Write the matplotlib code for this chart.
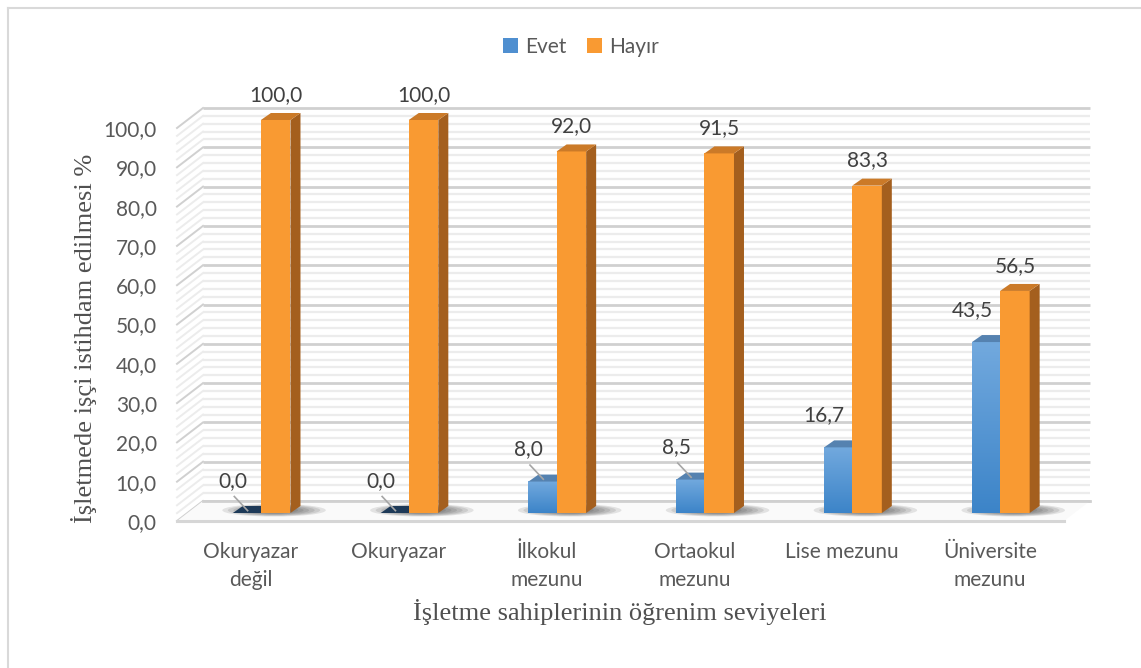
import numpy as np
import matplotlib
matplotlib.use('Agg')
import matplotlib.pyplot as plt
from matplotlib.patches import Polygon, Ellipse, Patch
from matplotlib.lines import Line2D
from matplotlib.colors import LinearSegmentedColormap

categories = ["Okuryazar\ndeğil", "Okuryazar", "İlkokul\nmezunu", "Ortaokul\nmezunu",
              "Lise mezunu", "Üniversite\nmezunu"]
evet = [0.0, 0.0, 8.0, 8.5, 16.7, 43.5]
hayir = [100.0, 100.0, 92.0, 91.5, 83.3, 56.5]
series_names = ["Evet", "Hayır"]
yticks = list(range(0, 101, 10))
ylabel = "İşletmede işçi istihdam edilmesi %"
xlabel = "İşletme sahiplerinin öğrenim seviyeleri"

W, H = 1141, 668
fig = plt.figure(figsize=(W / 100, H / 100), dpi=100)
fig.patch.set_facecolor('white')
ax = fig.add_axes([177 / W, 1 - 521 / H, (1064 - 177) / W, (521 - 128) / H])
ax.set_xlim(-0.5, 5.5)
ax.set_ylim(0, 100)

pxx = (1064 - 177) / 6.0
pxy = (521 - 128) / 100.0
DX, DY = 26 / pxx, 20 / pxy          # depth of the back wall
BX, BY = 10 / pxx, 8 / pxy           # bar plane offset
SX, SY = 10 / pxx, 7 / pxy           # bar depth
BW_BLUE, BW_OR = 0.19, 0.20

FONT = 'Lato'
TXT = '#595959'
FS = 15

# back wall gridlines + side wall diagonals
x0, x1 = -0.5, 5.5
for v in np.arange(0, 101, 2):
    major = (v % 10 == 0)
    col = '#D0D0D0' if major else '#ECECEC'
    lw = 2.0 if major else 1.6
    ax.plot([x0 + DX, x1 + DX], [v + DY, v + DY], color=col, lw=lw, zorder=1,
            clip_on=False, solid_capstyle='butt')
    ax.plot([x0, x0 + DX], [v, v + DY], color=col, lw=1.4, zorder=1, clip_on=False)

# floor
floor = Polygon([[x0, 0], [x1, 0], [x1 + DX, DY], [x0 + DX, DY]], closed=True,
                facecolor='#FAFAFA', edgecolor='none', zorder=1.5, clip_on=False)
ax.add_patch(floor)
ax.plot([x0, x1], [0, 0], color='#D6D6D6', lw=2.2, zorder=1.6, clip_on=False)
ax.plot([x0 + DX, x1 + DX], [DY, DY], color='#D0D0D0', lw=2.0, zorder=1.6, clip_on=False)

blue_cmap = LinearSegmentedColormap.from_list('b', ['#3C84C8', '#72A9DE'])
grad = np.linspace(0, 1, 256).reshape(-1, 1)

for i, (e, h) in enumerate(zip(evet, hayir)):
    ol = i + BX
    bl = ol - BW_BLUE
    orr = ol + BW_OR
    base = BY
    # shadow
    cx = (bl + orr + SX) / 2 + 0.05
    for k in range(7):
        ax.add_patch(Ellipse((cx, base + 0.7), 0.70 - k * 0.075, 3.2 - k * 0.3,
                             facecolor='#202020', alpha=0.11, edgecolor='none',
                             zorder=2, clip_on=False))
    # blue bar
    if e > 0:
        ax.imshow(grad, extent=[bl, ol, base, base + e], origin='lower', aspect='auto',
                  cmap=blue_cmap, zorder=3, clip_on=False)
        ax.add_patch(Polygon([[bl, base + e], [ol, base + e], [ol + SX, base + e + SY],
                              [bl + SX, base + e + SY]], closed=True,
                             facecolor='#5582B0', edgecolor='none', zorder=3.1, clip_on=False))
    else:
        ax.add_patch(Polygon([[bl, base], [ol, base], [ol + SX, base + SY],
                              [bl + SX, base + SY]], closed=True,
                             facecolor='#1E3A58', edgecolor='none', zorder=3.1, clip_on=False))
    # orange bar
    ax.add_patch(Polygon([[ol, base], [orr, base], [orr, base + h], [ol, base + h]], closed=True,
                         facecolor='#F99A32', edgecolor='none', zorder=4, clip_on=False))
    ax.add_patch(Polygon([[orr, base], [orr + SX, base + SY], [orr + SX, base + h + SY],
                          [orr, base + h]], closed=True,
                         facecolor='#A45F1E', edgecolor='none', zorder=4, clip_on=False))
    ax.add_patch(Polygon([[ol, base + h], [orr, base + h], [orr + SX, base + h + SY],
                          [ol + SX, base + h + SY]], closed=True,
                         facecolor='#CB7A28', edgecolor='none', zorder=4, clip_on=False))
    # labels
    lab = lambda v: f"{v:.1f}".replace('.', ',')
    ax.text((ol + orr) / 2, base + h + 6.4, lab(h), ha='center', va='center',
            fontsize=FS, color='#404040', family=FONT, zorder=6, clip_on=False)
    bc = (bl + ol) / 2
    lx, ly = bc - 0.095, base + e + 8.2
    ax.text(lx, ly, lab(e), ha='center', va='center', fontsize=FS, color='#404040',
            family=FONT, zorder=6, clip_on=False)
    if e < 10:
        ax.plot([lx + 0.01, bc + 0.005], [ly - 4.0, base + e + 0.6], color='#A6A6A6',
                lw=1.2, zorder=5, clip_on=False)

ax.set_xlim(-0.5, 5.5)
ax.set_ylim(0, 100)
ax.set_yticks(yticks)
ax.set_yticklabels([f"{v:.1f}".replace('.', ',') for v in yticks])
ax.set_xticks(range(len(categories)))
ax.set_xticklabels(categories, linespacing=1.5)
ax.tick_params(length=0, labelsize=FS, labelcolor=TXT)
ax.tick_params(axis='y', pad=14.5)
ax.tick_params(axis='x', pad=15)
for t in ax.get_xticklabels() + ax.get_yticklabels():
    t.set_family(FONT)
for s in ax.spines.values():
    s.set_visible(False)
ax.set_facecolor('none')

fig.text(84 / W, 1 - 338 / H, ylabel, rotation=90, ha='center', va='center',
         fontsize=19, family='Liberation Serif', color='#505050')
fig.text(620 / W, 1 - 612 / H, xlabel, ha='center', va='center',
         fontsize=19, family='Liberation Serif', color='#505050')

handles = [Patch(facecolor='#4F8FD0', edgecolor='none'), Patch(facecolor='#F99A32', edgecolor='none')]
leg = fig.legend(handles, series_names, loc='center', bbox_to_anchor=(581 / W, 1 - 47 / H),
                 ncol=2, frameon=False, handlelength=0.7, handleheight=0.7,
                 columnspacing=1.0, handletextpad=0.35, prop={'family': FONT, 'size': FS})
for t in leg.get_texts():
    t.set_color(TXT)

# outer border (top & left visible)
fig.add_artist(Line2D([8 / W, 1.0], [1 - 8 / H, 1 - 8 / H], transform=fig.transFigure,
                      color='#D9D9D9', lw=1.5))
fig.add_artist(Line2D([8 / W, 8 / W], [1 - 8 / H, 0.0], transform=fig.transFigure,
                      color='#D9D9D9', lw=1.5))

fig.savefig('out.png', dpi=100)
